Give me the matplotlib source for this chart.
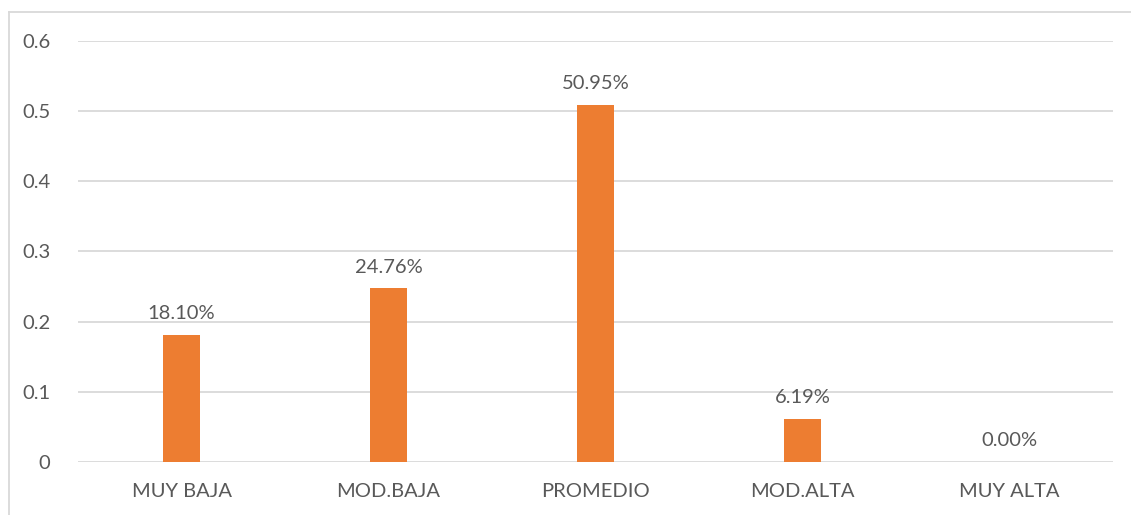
import matplotlib.pyplot as plt
from matplotlib.lines import Line2D

# nivel por categoria (proporcion)
categorias = ["MUY BAJA", "MOD.BAJA", "PROMEDIO", "MOD.ALTA", "MUY ALTA"]
proporciones = [0.1810, 0.2476, 0.5095, 0.0619, 0.0]
yticks = [0, 0.1, 0.2, 0.3, 0.4, 0.5, 0.6]
ytick_labels = ["0", "0.1", "0.2", "0.3", "0.4", "0.5", "0.6"]

naranja = "#ED7D31"
gris_texto = "#595959"
gris_linea = "#D9D9D9"

plt.rcParams['font.family'] = ['Lato', 'DejaVu Sans']
tam = 14.5

W, H = 1131, 515
fig = plt.figure(figsize=(W / 100, H / 100), dpi=100)
ax = fig.add_axes([78 / W, 1 - 462 / H, (1113 - 78) / W, (462 - 41) / H])

x = range(len(categorias))
barras = ax.bar(x, proporciones, width=0.174, color=naranja, zorder=3)

for b, v in zip(barras, proporciones):
    ax.annotate(f"{v * 100:.2f}%", (b.get_x() + b.get_width() / 2, v),
                xytext=(0, 9), textcoords="offset points",
                ha="center", va="bottom", fontsize=tam, color=gris_texto)

ax.set_xlim(-0.5, len(categorias) - 0.5)
ax.set_ylim(0, 0.6)
ax.set_yticks(yticks)
ax.set_yticklabels(ytick_labels)
ax.set_xticks(list(x))
ax.set_xticklabels(categorias)
ax.tick_params(axis="both", length=0, labelsize=tam, labelcolor=gris_texto)
ax.tick_params(axis="y", pad=20)
ax.tick_params(axis="x", pad=15)
ax.grid(axis="y", color=gris_linea, linewidth=1.3, zorder=0)
for s in ax.spines.values():
    s.set_visible(False)

# marco del area del grafico (izquierda y arriba)
fig.add_artist(Line2D([8.5 / W, 8.5 / W], [0, 1 - 12 / H], color=gris_linea, linewidth=1.3))
fig.add_artist(Line2D([8.5 / W, 1], [1 - 12 / H, 1 - 12 / H], color=gris_linea, linewidth=1.3))

fig.savefig("out.png", dpi=100)
